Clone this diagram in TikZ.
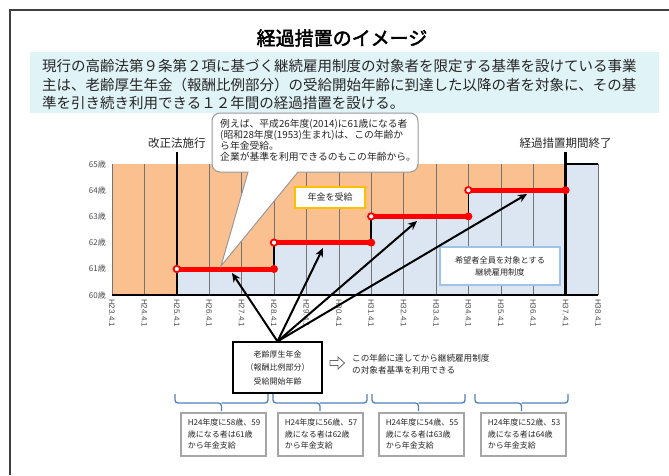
\documentclass[tikz,border=0pt]{standalone}
\usepackage{fontspec}
\setmainfont{Noto Sans CJK JP}
\newfontfamily\titlefont[FakeBold=2.5]{Noto Sans CJK JP}
\newfontfamily\latfont{Liberation Sans}
\usetikzlibrary{arrows.meta}
\definecolor{peach}{RGB}{250,192,144}
\definecolor{lblue}{RGB}{220,230,242}
\definecolor{cyanband}{RGB}{224,243,247}
\definecolor{legblue}{RGB}{157,195,230}
\definecolor{gold}{RGB}{255,192,0}
\definecolor{brc}{RGB}{79,129,189}
\definecolor{txt}{RGB}{38,38,38}
\begin{document}
\begin{tikzpicture}[x=1pt,y=-1pt,
  every node/.style={inner sep=0pt, text=txt},
  gridline/.style={black!55, line width=0.6},
  redline/.style={red, line width=5, line cap=round},
  opendot/.style={red, fill=white, line width=1.8},
  arr/.style={black, line width=2, -{Stealth[length=9pt,width=8pt]}},
  brace/.style={brc, line width=1.3, rounded corners=3},
  sbox/.style={draw=black!35, line width=1.5, fill=white, minimum width=85, minimum height=43, anchor=north west, align=left, text width=71, inner xsep=7, font=\fontsize{8}{11.5}\selectfont}
]
\useasboundingbox (0,0) rectangle (669,475);
\fill[white] (0,0) rectangle (669,475);
\draw[black!75, line width=1.2] (10,475) -- (10,10) -- (669,10);

% title and intro
\node[font=\titlefont\fontsize{19}{22}\selectfont, text=black] (title) at (342,38) {経過措置のイメージ};
\fill[cyanband] (30,52) rectangle (659,113);
\node[anchor=west, font=\fontsize{14.5}{17}\selectfont] (l1) at (42,66) {現行の高齢法第９条第２項に基づく継続雇用制度の対象者を限定する基準を設けている事業};
\node[anchor=west, font=\fontsize{14.5}{17}\selectfont] (l2) at (42,84.5) {主は、老齢厚生年金（報酬比例部分）の受給開始年齢に到達した以降の者を対象に、その基};
\node[anchor=west, font=\fontsize{14.5}{17}\selectfont] (l3) at (42,103) {準を引き続き利用できる１２年間の経過措置を設ける。};

% chart fills
\fill[peach] (112,164) rectangle (565.6,295);
\fill[lblue] (176.8,295) |- (274,269) |- (371.2,242.6) |- (468.4,216.4) |- (565.6,190.2) |- (598,164) -- (598,295) -- cycle;
\foreach \i in {0,...,15} {\draw[gridline] ({112+32.4*\i},164) -- ({112+32.4*\i},295);}
\draw[line width=2.5] (565.6,164) -- (598,164);
\draw[line width=2.8] (112,295) -- (598,295);
\draw[line width=2.5] (176.8,152) -- (176.8,295);
\draw[line width=2.5] (565.6,152) -- (565.6,295);

% axis labels
\foreach \a in {60,...,65} {\node[anchor=east, font=\fontsize{8}{9}\selectfont, text=black!70] (y\a) at (106,{295-26.2*(\a-60)}) {{\a}歳};}
\foreach \i [evaluate=\i as \yr using int(23+\i)] in {0,...,15} {\node[rotate=-90, anchor=west, font=\latfont\fontsize{8}{9}\selectfont, text=black!70] (x\i) at ({112+32.4*\i},299) {H{\yr}.4.1};}
\node[font=\fontsize{11.5}{13}\selectfont] (kaisei) at (176.8,143) {改正法施行};
\node[font=\fontsize{11.5}{13}\selectfont] (shuryo) at (565.6,143) {経過措置期間終了};

% steps
\draw[line width=1.8] (274,269) -- (274,242.6);
\draw[line width=1.8] (371.2,242.6) -- (371.2,216.4);
\draw[line width=1.8] (468.4,216.4) -- (468.4,190.2);
\draw[redline] (176.8,269) -- (274,269);
\draw[redline] (274,242.6) -- (371.2,242.6);
\draw[redline] (371.2,216.4) -- (468.4,216.4);
\draw[redline] (468.4,190.2) -- (565.6,190.2);
\foreach \x/\y in {274/269, 371.2/242.6, 468.4/216.4, 565.6/190.2} {\fill[red] (\x,\y) circle (4);}
\foreach \x/\y in {176.8/269, 274/242.6, 371.2/216.4, 468.4/190.2} {\draw[opendot] (\x,\y) circle (3.2);}

% callout
\draw[black!40, line width=1, fill=white] (248,172) -- (221,266) -- (298,172) -- (330,172) [rounded corners=8] -- (418,172) -- (418,113) -- (212,113) -- (212,172) -- (230,172) [sharp corners] -- cycle;
\node[anchor=north west, align=left, font=\fontsize{9.8}{10.8}\selectfont] (callout) at (220,119.5) {例えば、平成26年度(2014)に61歳になる者\\(昭和28年度(1953)生まれ)は、この年齢か\\ら年金受給。\\企業が基準を利用できるのもこの年齢から。};

% boxes in chart
\node[draw=gold, line width=2, fill=white, minimum width=70, minimum height=21, font=\fontsize{9}{10}\selectfont] (nenkin) at (330,197.5) {年金を受給};
\node[draw=legblue, line width=2.2, fill=white, minimum width=120, minimum height=38, align=center, font=\fontsize{8.2}{12}\selectfont] (leg) at (500,266) {希望者全員を対象とする\\継続雇用制度};

% bottom box and arrows
\node[draw, line width=1.3, fill=white, minimum width=89, minimum height=51, align=center, font=\fontsize{8}{13.5}\selectfont] (rb) at (277.5,367.5) {老齢厚生年金\\（報酬比例部分）\\受給開始年齢};
\coordinate (e1) at (232,273);
\coordinate (e2) at (323,248);
\coordinate (e3) at (417,221);
\coordinate (e4) at (527,194);
\foreach \e in {e1,e2,e3,e4} {\draw[arr] (rb.north) -- (\e);}

% hollow arrow and note
\draw[black!60, line width=0.8, fill=white] (330,360.5) -- (338,360.5) -- (338,357) -- (344.5,363) -- (338,369) -- (338,365.5) -- (330,365.5) -- cycle;
\node[anchor=west, align=left, font=\fontsize{8.6}{12}\selectfont] (note) at (352,364) {この年齢に達してから継続雇用制度\\の対象者基準を利用できる};

% braces
\foreach \a/\b in {175/268, 273/367, 372/465, 475/568} {
  \pgfmathsetmacro\cc{(\a+\b)/2}
  \draw[brace] (\a,394) -- (\a,403) -- (\cc,403) -- (\cc,411);
  \draw[brace] (\b,394) -- (\b,403) -- (\cc,403);
}
\node[sbox] (b1) at (180,412) {H24年度に58歳、59\\歳になる者は61歳\\から年金支給};
\node[sbox] (b2) at (277,412) {H24年度に56歳、57\\歳になる者は62歳\\から年金支給};
\node[sbox] (b3) at (378,412) {H24年度に54歳、55\\歳になる者は63歳\\から年金支給};
\node[sbox] (b4) at (480,412) {H24年度に52歳、53\\歳になる者は64歳\\から年金支給};
\end{tikzpicture}
\end{document}
